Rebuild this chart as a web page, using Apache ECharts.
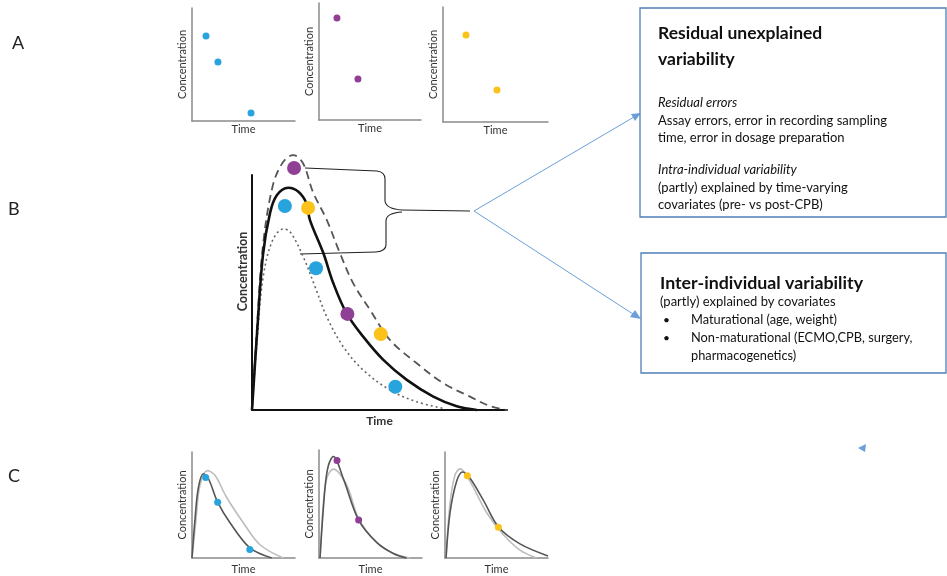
<!DOCTYPE html>
<html>
<head>
<meta charset="utf-8">
<script src="https://cdn.jsdelivr.net/npm/echarts@6/dist/echarts.min.js"></script>
<style>
  html, body { margin: 0; padding: 0; background: #fff; }
  #main { width: 947px; height: 576px; }
</style>
</head>
<body>
<div id="main"></div>
<script>
// panel A: observed samples (time %, concentration %)
const aBlue = [[13.6, 75.2], [25.2, 52.2], [57.3, 7.1]];
const aPurple = [[17.6, 87.2], [38.2, 35.0]];
const aYellow = [[21.9, 75.7], [51.4, 27.8]];

// panel B: population curve and spread
const bMean = [[0, 0], [2.0, 33], [4.3, 66], [7.1, 84], [9.8, 91.5], [14.2, 94.6], [18.2, 92.9], [21.4, 87.9],
  [22.7, 80.9], [28.0, 66.7], [31.9, 53.9], [37.1, 41.1], [43.6, 31.2], [51.5, 21.3], [60.7, 12.8], [71.1, 5.7],
  [80.3, 1.6], [88.2, 0]];
const bUpper = [[0, 0], [2.0, 36], [4.3, 70], [8.2, 95.7], [12.2, 105.5], [16.1, 108.5], [20, 105], [23.9, 92.8],
  [29.3, 80.9], [34.5, 66.7], [39.7, 53.9], [46.3, 42.6], [54.1, 29.8], [64.6, 19.9], [75.0, 11.4], [85.5, 5.7],
  [93, 1.8], [100, 0]];
const bLower = [[0, 0], [2.0, 30], [4.3, 56], [7.8, 71.5], [12.2, 77], [14.9, 75.9], [20.1, 65.2], [24.7, 52.5],
  [29.3, 39.7], [35.8, 26.9], [43.6, 17.0], [54.1, 8.5], [64.6, 3.5], [75.0, 0.7]];
const bBlue = [[12.9, 86.8], [25.1, 60.3], [56.2, 9.9]];
const bPurple = [[16.5, 103.0], [37.4, 40.9]];
const bYellow = [[22.0, 86.0], [50.5, 32.3]];

// panel C: individual fits (dark) vs population (light)
const c1Ind = [[0, 0], [2.9, 36.3], [6.1, 66], [11, 79.5], [15.9, 75], [24.9, 52.7], [36.9, 33.3], [56.3, 9.5], [77.4, 0]];
const c1Pop = [[0, 0], [3.9, 36.3], [7.8, 69], [15.2, 82.4], [22.3, 78], [33.7, 57.1], [49.8, 33.3], [66, 12.5], [88.6, 0]];
const c1Pts = [[13.3, 75.9], [24.9, 52.7], [56.1, 8]];
const c2Ind = [[1, 0], [5.8, 64.6], [9, 85.2], [13.9, 94], [23.6, 73.5], [38.5, 35.1], [56, 14.4], [72.1, 4.1], [85, 0]];
const c2Pop = [[1, 0], [4.2, 49.8], [7.5, 73.5], [13.9, 82.3], [26.9, 67.5], [38.5, 36.5], [56, 14.4], [72, 4.5], [88.3, 0]];
const c2Pts = [[17.5, 90.3], [38.5, 35.1]];
const c3Ind = [[1, 0], [4.9, 42.7], [11.3, 72.3], [17.2, 81.1], [24.3, 75.2], [37.2, 54.6], [51.8, 29.5], [72.8, 13.3], [100, 2]];
const c3Pop = [[1, 0], [4.9, 51.6], [9.7, 78.2], [14.6, 84.1], [24.3, 72.3], [40.5, 42.7], [56.6, 22.1], [72.8, 7.4], [89, 0]];
const c3Pts = [[21.7, 77.6], [51.8, 28.9]];

const BLUE = '#27a3dd', PURPLE = '#8f3f94', YELLOW = '#fbc31a';
const ARROW = '#6a9fd8', BOX = '#4f7fb7';
const FONT = 'Lato, "Open Sans", sans-serif';

const grids = [
  {left: 192, top: 8, width: 103, height: 113},
  {left: 319, top: 3, width: 102, height: 117},
  {left: 443, top: 7, width: 105, height: 115},
  {left: 252, top: 175, width: 255, height: 235},
  {left: 192, top: 452, width: 103, height: 112},
  {left: 319, top: 450, width: 103, height: 113},
  {left: 445, top: 452, width: 103, height: 113}
];

function xAx(i, big) {
  return {
    type: 'value', gridIndex: i, min: 0, max: 100,
    name: 'Time', nameLocation: 'middle', nameGap: big ? 5 : (i > 3 ? 6 : 3),
    nameTextStyle: {fontSize: big ? 12 : 11, color: '#333', fontFamily: FONT, fontWeight: big ? 'bold' : 'normal'},
    axisLine: {lineStyle: {color: big ? '#111' : '#8a8a8a', width: big ? 2 : 1.5}},
    axisTick: {show: false}, axisLabel: {show: false}, splitLine: {show: false}
  };
}
function yAx(i, big) {
  return {
    type: 'value', gridIndex: i, min: 0, max: 100,
    name: 'Concentration', nameLocation: 'middle', nameRotate: 90, nameGap: big ? 3 : 4,
    nameTextStyle: {fontSize: big ? 12.5 : 11, color: '#333', fontFamily: FONT, fontWeight: big ? 'bold' : 'normal',
      padding: big ? [0, 0, 0, 42] : 0},
    axisLine: {show: true, lineStyle: {color: big ? '#111' : '#8a8a8a', width: big ? 2 : 1.5}},
    axisTick: {show: false}, axisLabel: {show: false}, splitLine: {show: false}
  };
}

function dots(i, data, color, size) {
  return {type: 'scatter', xAxisIndex: i, yAxisIndex: i, data: data, symbolSize: size,
    itemStyle: {color: color, opacity: 1}, z: 5, silent: true, clip: false};
}
function curve(i, data, color, width, dash) {
  return {type: 'line', xAxisIndex: i, yAxisIndex: i, data: data, smooth: 0.35,
    showSymbol: false, symbol: 'none', clip: false, silent: true,
    lineStyle: {color: color, width: width, type: dash || 'solid'}};
}

function txt(x, y, s, font, extra) {
  return {type: 'text', x: x, y: y, silent: true, z: 10,
    style: Object.assign({text: s, font: font, fill: '#111', textVerticalAlign: 'middle'}, extra || {})};
}
function seg(x1, y1, x2, y2) {
  return {type: 'line', silent: true, shape: {x1: x1, y1: y1, x2: x2, y2: y2},
    style: {stroke: '#222', lineWidth: 1.1}};
}
function bend(x1, y1, cx, cy, x2, y2) {
  return {type: 'bezierCurve', silent: true, shape: {x1: x1, y1: y1, cpx1: cx, cpy1: cy, x2: x2, y2: y2},
    style: {stroke: '#222', lineWidth: 1.1, fill: null}};
}

const chart = echarts.init(document.getElementById('main'));
const option = {
  animation: false,
  grid: grids,
  xAxis: grids.map((g, i) => xAx(i, i === 3)),
  yAxis: grids.map((g, i) => yAx(i, i === 3)),
  series: [
    dots(0, aBlue, BLUE, 7),
    dots(1, aPurple, PURPLE, 7),
    dots(2, aYellow, YELLOW, 7),
    curve(3, bUpper, '#555', 1.8, [8, 5]),
    curve(3, bLower, '#666', 1.6, [2, 3]),
    curve(3, bMean, '#111', 2.6),
    dots(3, bBlue, BLUE, 14),
    dots(3, bPurple, PURPLE, 14),
    dots(3, bYellow, YELLOW, 14),
    curve(4, c1Pop, '#bdbdbd', 1.6),
    curve(4, c1Ind, '#555', 1.6),
    dots(4, c1Pts, BLUE, 7),
    curve(5, c2Pop, '#bdbdbd', 1.6),
    curve(5, c2Ind, '#555', 1.6),
    dots(5, c2Pts, PURPLE, 7),
    curve(6, c3Pop, '#bdbdbd', 1.6),
    curve(6, c3Ind, '#555', 1.6),
    dots(6, c3Pts, YELLOW, 7)
  ],
  graphic: [
    // panel letters
    txt(12, 43, 'A', '18px ' + FONT, {fill: '#222'}),
    txt(8, 209, 'B', '18px ' + FONT, {fill: '#222'}),
    txt(8, 476, 'C', '18px ' + FONT, {fill: '#222'}),
    // bracket round the spread
    seg(305, 168, 377, 171),
    bend(377, 171, 385, 172, 385, 179),
    seg(385, 179, 385, 201),
    bend(385, 201, 386, 209, 402, 210),
    seg(402, 210, 470, 211),
    bend(402, 212, 386, 213, 386, 221),
    seg(386, 221, 386, 245),
    bend(386, 245, 386, 251, 376, 252),
    seg(376, 252, 300, 254),
    // arrows to boxes
    {type: 'polyline', silent: true, shape: {points: [[634, 117], [474, 211], [633, 314]]},
      style: {stroke: ARROW, lineWidth: 1, fill: null}},
    {type: 'polygon', silent: true, shape: {points: [[641, 113], [631, 114], [635, 121]]}, style: {fill: ARROW}},
    {type: 'polygon', silent: true, shape: {points: [[641, 319], [635, 310], [630, 317]]}, style: {fill: ARROW}},
    {type: 'polygon', silent: true, shape: {points: [[858, 448], [866, 444], [865, 452]]}, style: {fill: ARROW}},
    // box 1
    {type: 'rect', silent: true, shape: {x: 640, y: 8, width: 306, height: 209},
      style: {fill: '#fff', stroke: BOX, lineWidth: 1.3}},
    txt(658, 33, 'Residual unexplained', 'bold 17.5px ' + FONT),
    txt(658, 59, 'variability', 'bold 17.5px ' + FONT),
    txt(658, 103, 'Residual errors', 'italic 13px ' + FONT),
    txt(658, 121, 'Assay errors, error in recording sampling', '13px ' + FONT),
    txt(658, 138, 'time, error in dosage preparation', '13px ' + FONT),
    txt(658, 170, 'Intra-individual variability', 'italic 13px ' + FONT),
    txt(658, 188, '(partly) explained by time-varying', '13px ' + FONT),
    txt(658, 205, 'covariates (pre- vs post-CPB)', '13px ' + FONT),
    // box 2
    {type: 'rect', silent: true, shape: {x: 641, y: 253, width: 305, height: 120},
      style: {fill: '#fff', stroke: BOX, lineWidth: 1.3}},
    txt(660, 283, 'Inter-individual variability', 'bold 17.8px ' + FONT),
    txt(660, 302, '(partly) explained by covariates', '13px ' + FONT),
    txt(663, 320, '•', '12px ' + FONT),
    txt(691, 320, 'Maturational (age, weight)', '12.8px ' + FONT),
    txt(663, 338, '•', '12px ' + FONT),
    txt(691, 338, 'Non-maturational (ECMO,CPB, surgery,', '12.8px ' + FONT),
    txt(691, 356, 'pharmacogenetics)', '12.8px ' + FONT)
  ]
};
chart.setOption(option);
</script>
</body>
</html>
